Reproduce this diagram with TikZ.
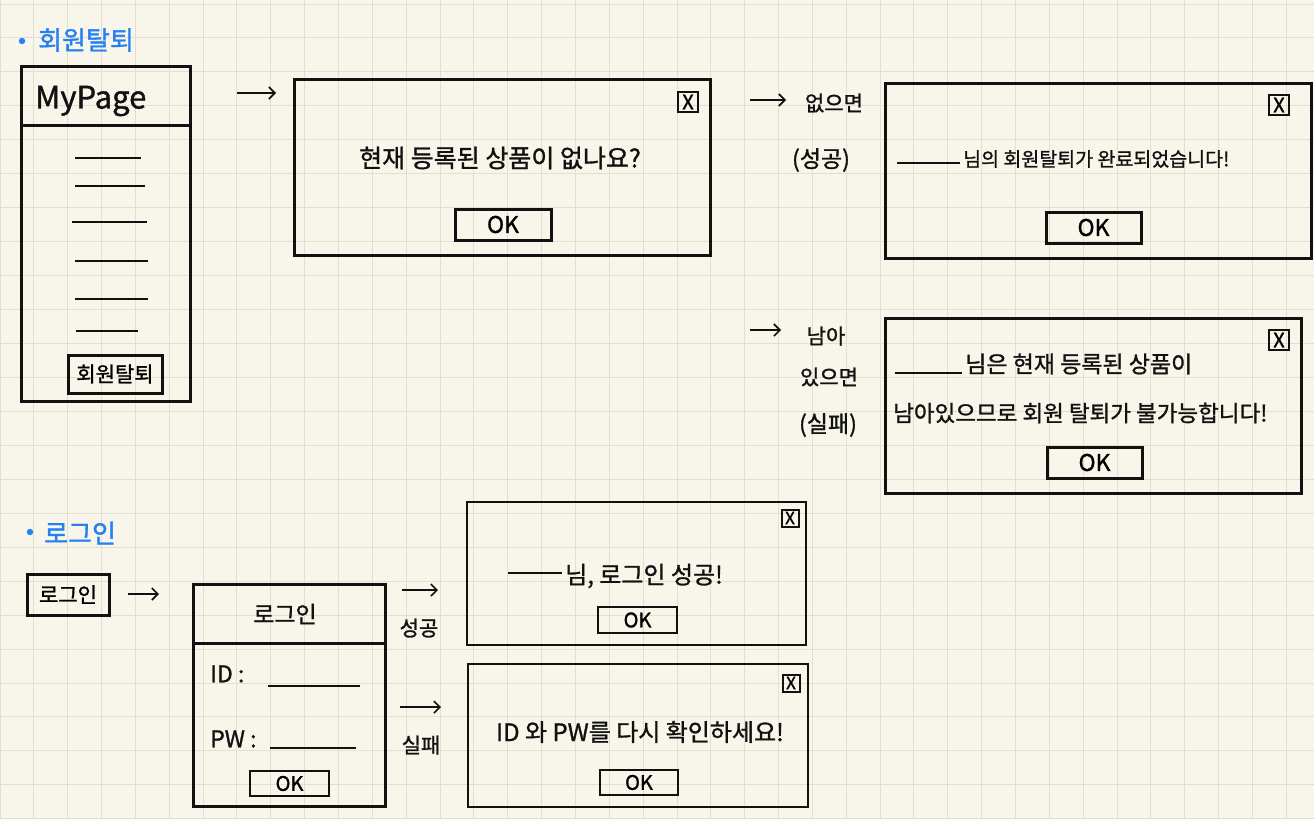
\documentclass[tikz,border=0pt]{standalone}
\usepackage{fontspec}
\setmainfont[FakeBold=1.2]{Noto Sans CJK KR}
\usetikzlibrary{arrows.meta}
\definecolor{paper}{HTML}{F8F6EA}
\definecolor{gridc}{HTML}{E2DFD0}
\definecolor{ink}{HTML}{111111}
\definecolor{blueink}{HTML}{2580F4}
\newcommand{\fsz}[1]{\fontsize{#1}{#1}\selectfont}
\begin{document}
\begin{tikzpicture}[x=1pt,y=-1pt,
  win/.style={draw=ink,line width=3pt,inner sep=0pt},
  smallwin/.style={draw=ink,line width=2.6pt,inner sep=0pt},
  xbox/.style={draw=ink,line width=2pt,inner sep=0pt,minimum size=#1,font=\fsz{#1}},
  okbtn/.style={draw=ink,line width=3pt,inner sep=0pt,font=\fsz{23}},
  okbtnsm/.style={draw=ink,line width=2pt,inner sep=0pt,font=\fsz{20}},
  txt/.style={text=ink,inner sep=0pt},
  bluetxt/.style={text=blueink,inner sep=0pt,font=\fsz{26}},
  blank/.style={draw=ink,line width=2pt},
  arr/.style={draw=ink,line width=1.6pt,-{Straight Barb[length=6pt,width=12pt,line width=1.6pt]}}
]
\useasboundingbox (0,0) rectangle (1314,819);
\fill[paper] (0,0) rectangle (1314,819);
\foreach \i in {0,...,39} \draw[gridc,line width=1pt] ({\i*33.85},0) -- ({\i*33.85},819);
\foreach \j in {0,...,24} \draw[gridc,line width=1pt] (0,{4+\j*33.95}) -- (1314,{4+\j*33.95});

% ---------- titles
\fill[blueink] (22,41) circle (3.2);
\node[bluetxt,anchor=west] (t1) at (38,40) {회원탈퇴};
\fill[blueink] (30,532) circle (3.2);
\node[bluetxt,anchor=west] (t2) at (44,533) {로그인};

% ---------- MyPage
\node[win,minimum width=169,minimum height=335] (mp) at (105.5,233.5) {};
\draw[ink,line width=3pt] (21,125) -- (190,125);
\node[txt,font=\fsz{31},anchor=west] (mpt) at (35,101) {MyPage};
\draw[blank] (75,158) -- (141,158);
\draw[blank] (75,186) -- (145,186);
\draw[blank] (72,222) -- (147,222);
\draw[blank] (75,261) -- (148,261);
\draw[blank] (75,299) -- (148,299);
\draw[blank] (76,331) -- (138,331);
\node[win,minimum width=94,minimum height=38,font=\fsz{21}] (quit) at (115,374) {회원탈퇴};

\coordinate (a1s) at (237,93); \coordinate (a1e) at (276,93);
\draw[arr] (a1s) -- (a1e);

% ---------- popup 1
\node[win,minimum width=416,minimum height=176] (p1) at (502,167) {};
\node[xbox=20] (p1x) at (688,102) {X};
\node[txt,font=\fsz{25}] (p1t) at (500,158) {현재 등록된 상품이 없나요?};
\node[okbtn,minimum width=96,minimum height=31] (p1ok) at (503,224.5) {OK};

% ---------- branch success
\coordinate (a2s) at (750,100); \coordinate (a2e) at (786,100);
\draw[arr] (a2s) -- (a2e);
\node[txt,font=\fsz{21}] (l1) at (834,103) {없으면};
\node[txt,font=\fsz{23}] (l2) at (821,160) {(성공)};

\node[win,minimum width=426,minimum height=175] (p2) at (1098,170.5) {};
\node[xbox=20] (p2x) at (1279,105) {X};
\draw[blank] (897,163) -- (960,163);
\node[txt,font=\fsz{19.5},anchor=west] (p2t) at (963,159) {님의 회원탈퇴가 완료되었습니다!};
\node[okbtn,minimum width=95,minimum height=31] (p2ok) at (1093.5,227.5) {OK};

% ---------- branch failure
\coordinate (a3s) at (750,330); \coordinate (a3e) at (781,330);
\draw[arr] (a3s) -- (a3e);
\node[txt,font=\fsz{21}] (l3) at (826,336) {남아};
\node[txt,font=\fsz{21}] (l4) at (829,377) {있으면};
\node[txt,font=\fsz{23}] (l5) at (828,425) {(실패)};

\node[win,minimum width=416,minimum height=175] (p3) at (1093,405.5) {};
\node[xbox=20] (p3x) at (1279,340) {X};
\draw[blank] (895,373) -- (962,373);
\node[txt,font=\fsz{23},anchor=west] (p3t1) at (965,364) {님은 현재 등록된 상품이};
\node[txt,font=\fsz{22.5},anchor=west] (p3t2) at (893,413) {남아있으므로 회원 탈퇴가 불가능합니다!};
\node[okbtn,minimum width=95,minimum height=31] (p3ok) at (1094.5,462.5) {OK};

% ---------- login
\node[win,minimum width=82,minimum height=41,font=\fsz{21}] (lb) at (68,594.5) {로그인};
\coordinate (a4s) at (128,594); \coordinate (a4e) at (159,594);
\draw[arr] (a4s) -- (a4e);

\node[win,minimum width=192,minimum height=222] (lf) at (289,695) {};
\draw[ink,line width=3pt] (193,643) -- (386,643);
\node[txt,font=\fsz{23}] (lft) at (285,614) {로그인};
\node[txt,font=\fsz{23},anchor=west] (lid) at (210,674) {ID :};
\draw[blank] (268,686) -- (360,686);
\node[txt,font=\fsz{23},anchor=west] (lpw) at (210,739) {PW :};
\draw[blank] (270,748) -- (356,748);
\node[okbtnsm,minimum width=79,minimum height=25] (lok) at (289.5,783.5) {OK};

\coordinate (a5s) at (402,590); \coordinate (a5e) at (438,590);
\draw[arr] (a5s) -- (a5e);
\node[txt,font=\fsz{21}] (l6) at (419,628) {성공};
\coordinate (a6s) at (400,707); \coordinate (a6e) at (441,707);
\draw[arr] (a6s) -- (a6e);
\node[txt,font=\fsz{21}] (l7) at (421,745) {실패};

\node[smallwin,minimum width=339,minimum height=143] (p4) at (636.5,573.5) {};
\node[xbox=17] (p4x) at (790,518) {X};
\draw[blank] (508,573) -- (562,573);
\node[txt,font=\fsz{24},anchor=west] (p4t) at (565,576) {님, 로그인 성공!};
\node[okbtnsm,minimum width=79,minimum height=26] (p4ok) at (637.5,620) {OK};

\node[smallwin,minimum width=340,minimum height=143] (p5) at (638,735.5) {};
\node[xbox=17] (p5x) at (791,683) {X};
\node[txt,font=\fsz{24}] (p5t) at (640,732) {ID 와 PW를 다시 확인하세요!};
\node[okbtnsm,minimum width=78,minimum height=25] (p5ok) at (639,782.5) {OK};
\end{tikzpicture}
\end{document}
